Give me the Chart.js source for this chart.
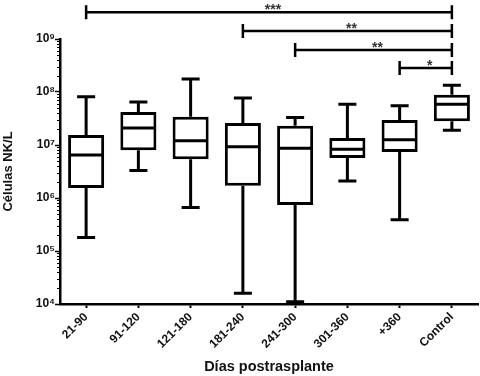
<!DOCTYPE html>
<html>
<head>
<meta charset="utf-8">
<script src="https://cdn.jsdelivr.net/npm/chart.js@4.4.1/dist/chart.umd.min.js"></script>
<style>
  html, body { margin: 0; padding: 0; background: #fff; }
  #wrap { width: 480px; height: 376px; }
</style>
</head>
<body>
<div id="wrap"><canvas id="boxChart" width="480" height="376"></canvas></div>
<script>
// Days after transplant groups
const categories = ['21-90', '91-120', '121-180', '181-240', '241-300', '301-360', '+360', 'Control'];

// Box plot values (NK cells per litre)
const whiskerMin = [1.8e5, 3.3e6, 6.6e5, 1.6e4, 1.1e4, 2.1e6, 3.9e5, 1.9e7];
const q1 = [1.55e6, 8.0e6, 5.4e6, 1.7e6, 7.4e5, 5.7e6, 7.4e6, 2.8e7];
const median = [6.5e6, 2.1e7, 1.2e7, 9.3e6, 8.7e6, 8.3e6, 1.25e7, 5.9e7];
const q3 = [1.55e7, 4.2e7, 3.4e7, 2.6e7, 2.3e7, 1.36e7, 2.95e7, 8.9e7];
const whiskerMax = [8.1e7, 6.5e7, 1.76e8, 7.7e7, 3.3e7, 5.9e7, 5.5e7, 1.34e8];

// Significance brackets
const bracketFrom = [0, 3, 4, 6];
const bracketTo = [7, 7, 7, 7];
const bracketLevel = [3.2e9, 1.42e9, 6.2e8, 2.84e8];
const bracketLabel = ['***', '**', '**', '*'];

// y axis decades
const yExponents = [4, 5, 6, 7, 8, 9];
const sup = { '4': '\u2074', '5': '\u2075', '6': '\u2076', '7': '\u2077', '8': '\u2078', '9': '\u2079' };

const FONT = '"Liberation Sans", Arial, sans-serif';

const boxPlugin = {
  id: 'boxExtras',
  afterDatasetsDraw(chart) {
    const ctx = chart.ctx;
    const x = chart.scales.x;
    const y = chart.scales.y;
    const meta = chart.getDatasetMeta(0);
    ctx.save();
    ctx.strokeStyle = '#000';
    ctx.lineWidth = 3;
    ctx.lineCap = 'butt';
    meta.data.forEach((bar, i) => {
      const cx = x.getPixelForValue(i);
      const half = bar.width / 2;
      const cap = bar.width / 4;
      const yMin = y.getPixelForValue(whiskerMin[i]);
      const yMax = y.getPixelForValue(whiskerMax[i]);
      const yQ1 = y.getPixelForValue(q1[i]);
      const yQ3 = y.getPixelForValue(q3[i]);
      const yMed = y.getPixelForValue(median[i]);
      ctx.beginPath();
      // whiskers
      ctx.moveTo(cx, yQ3); ctx.lineTo(cx, yMax);
      ctx.moveTo(cx, yQ1); ctx.lineTo(cx, yMin);
      // caps
      ctx.moveTo(cx - cap, yMax); ctx.lineTo(cx + cap, yMax);
      ctx.moveTo(cx - cap, yMin); ctx.lineTo(cx + cap, yMin);
      // median
      ctx.moveTo(cx - half + 1.5, yMed); ctx.lineTo(cx + half - 1.5, yMed);
      ctx.stroke();
    });
    ctx.restore();
  },
  afterDraw(chart) {
    const ctx = chart.ctx;
    const x = chart.scales.x;
    const y = chart.scales.y;
    ctx.save();
    // minor log ticks
    ctx.strokeStyle = '#000';
    ctx.lineWidth = 1;
    ctx.beginPath();
    for (let e = 4; e < 9; e++) {
      for (let k = 2; k <= 9; k++) {
        const py = Math.round(y.getPixelForValue(k * Math.pow(10, e))) + 0.5;
        ctx.moveTo(y.right - 3, py);
        ctx.lineTo(y.right, py);
      }
    }
    ctx.stroke();
    // brackets
    ctx.lineWidth = 2.5;
    ctx.fillStyle = '#333';
    ctx.font = 'bold 14px ' + FONT;
    ctx.textAlign = 'center';
    ctx.textBaseline = 'alphabetic';
    bracketLevel.forEach((lvl, i) => {
      const x1 = x.getPixelForValue(bracketFrom[i]);
      const x2 = x.getPixelForValue(bracketTo[i]);
      const py = y.getPixelForValue(lvl);
      ctx.beginPath();
      ctx.moveTo(x1, py); ctx.lineTo(x2, py);
      ctx.moveTo(x1, py - 7); ctx.lineTo(x1, py + 7);
      ctx.moveTo(x2, py - 7); ctx.lineTo(x2, py + 7);
      ctx.stroke();
      ctx.fillText(bracketLabel[i], (x1 + x2) / 2 + 4, py + 2);
    });
    ctx.restore();
  }
};

const ctx = document.getElementById('boxChart').getContext('2d');
new Chart(ctx, {
  type: 'bar',
  data: {
    labels: categories,
    datasets: [{
      data: q1.map((v, i) => [v, q3[i]]),
      backgroundColor: '#fff',
      borderColor: '#000',
      borderWidth: 3,
      borderSkipped: false,
      barPercentage: 0.69,
      categoryPercentage: 1
    }]
  },
  options: {
    responsive: false,
    animation: false,
    events: [],
    layout: { padding: { top: 39, right: 2, left: 0, bottom: 0 } },
    plugins: {
      legend: { display: false },
      tooltip: { enabled: false }
    },
    scales: {
      x: {
        offset: true,
        grid: { display: true, drawOnChartArea: false, offset: false, tickLength: 4, tickWidth: 2, tickColor: '#000' },
        border: { display: true, color: '#000', width: 2.5 },
        ticks: {
          minRotation: 45, maxRotation: 45, padding: 2,
          color: '#111',
          font: { family: FONT, size: 12, weight: 'bold' }
        },
        title: {
          display: true, text: 'Días postrasplante', color: '#111',
          padding: { top: 0, bottom: 0 },
          font: { family: FONT, size: 14.5, weight: 'bold' }
        },
        afterFit(scale) { scale.height = 72; }
      },
      y: {
        type: 'logarithmic',
        min: 1e4,
        max: 1e9,
        afterBuildTicks(scale) {
          scale.ticks = yExponents.map(e => ({ value: Math.pow(10, e), major: true }));
        },
        grid: { display: true, drawOnChartArea: false, tickLength: 5, tickWidth: 1.5, tickColor: '#000' },
        border: { display: true, color: '#000', width: 2.5 },
        ticks: {
          padding: 0,
          color: '#111',
          font: { family: FONT, size: 12, weight: 'bold' },
          callback: (v) => {
            const e = Math.round(Math.log10(v));
            return '10' + sup[String(e)];
          }
        },
        title: {
          display: true, text: 'Células NK/L', color: '#111',
          padding: { top: 1, bottom: 0 },
          font: { family: FONT, size: 13, weight: 'bold' }
        },
        afterFit(scale) { scale.width = 60; }
      }
    }
  },
  plugins: [boxPlugin]
});
</script>
</body>
</html>
